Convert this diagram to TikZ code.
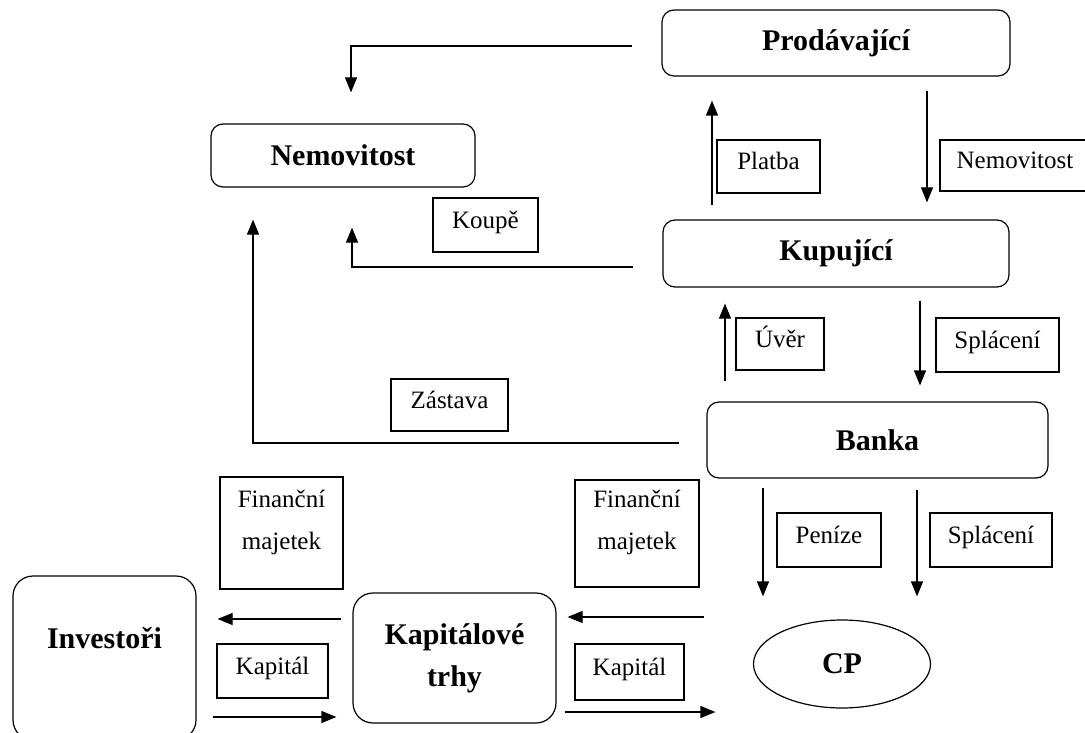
\documentclass[tikz,border=0pt]{standalone}
\usepackage{fontspec}
\setmainfont{Liberation Serif}
\usetikzlibrary{arrows.meta,shapes.geometric}

\begin{document}
\begin{tikzpicture}[x=1pt,y=-1pt,
    title/.style={draw,rounded corners=12pt,line width=1.2pt,align=center,
      font=\fontsize{30}{42}\selectfont\bfseries},
    tag/.style={draw,line width=1.2pt,align=center,font=\fontsize{25}{42}\selectfont},
    tagline/.style={tag,text height=16pt,text depth=10pt},
    arr/.style={line width=1.2pt,-{Triangle[length=15pt,width=12pt]}}]
  \useasboundingbox (0,0) rectangle (1085,733);
  % parties
  \node[title,minimum width=348pt,minimum height=66pt] (prod) at (836,43) {Prodávající};
  \node[title,minimum width=264pt,minimum height=63pt] (nem) at (343,155.5) {Nemovitost};
  \node[title,minimum width=346pt,minimum height=67pt] (kup) at (836,253.5) {Kupující};
  \node[title,minimum width=341pt,minimum height=76pt] (banka) at (877.5,440) {Banka};
  \node[title,rounded corners=20pt,minimum width=183pt,minimum height=164pt,
    text height=20pt,text depth=40pt] (inv) at (104.5,658) {Investoři};
  \node[title,rounded corners=20pt,minimum width=203pt,minimum height=130pt] (kap) at (454.5,658) {Kapitálové\\trhy};
  \node[title,ellipse,rounded corners=0pt,minimum width=177pt,minimum height=88pt] (cp) at (842,664) {CP};
  % labels
  \node[tagline,minimum width=103pt,minimum height=53pt] (platba) at (768.5,166.5) {Platba};
  \node[tagline,minimum width=150pt,minimum height=51pt] (nemtag) at (1015,165.5) {Nemovitost};
  \node[tagline,minimum width=105pt,minimum height=54pt] (koupe) at (485.5,225) {Koupě};
  \node[tagline,minimum width=88pt,minimum height=52pt] (uver) at (780,344) {Úvěr};
  \node[tagline,minimum width=123pt,minimum height=54pt] (splac) at (997.5,345) {Splácení};
  \node[tagline,minimum width=117pt,minimum height=52pt] (zast) at (449.5,405) {Zástava};
  \node[tag,minimum width=123pt,minimum height=112pt,text height=62pt,text depth=30pt] (finA) at (281.5,533) {Finanční\\majetek};
  \node[tag,minimum width=124pt,minimum height=107pt,text height=62pt,text depth=30pt] (finB) at (637,533.5) {Finanční\\majetek};
  \node[tagline,minimum width=104pt,minimum height=54pt] (penize) at (829,540) {Peníze};
  \node[tagline,minimum width=122pt,minimum height=54pt] (splacB) at (991,540) {Splácení};
  \node[tagline,minimum width=111pt,minimum height=54pt] (kapA) at (272.5,671) {Kapitál};
  \node[tagline,minimum width=109pt,minimum height=56pt] (kapB) at (629.5,672) {Kapitál};
  % flows
  \draw[arr] ([xshift=-29pt,yshift=-3pt]prod.west) -| ([xshift=8pt,yshift=31pt]nem.north);
  \draw[arr] ([xshift=-124pt,yshift=14pt]kup.north) -- ([xshift=-124pt,yshift=-24pt]prod.south);
  \draw[arr] ([xshift=91pt,yshift=-14pt]prod.south) -- ([xshift=91pt,yshift=17pt]kup.north);
  \draw[arr] ([xshift=-29pt,yshift=-13.5pt]kup.west) -| ([xshift=9pt,yshift=-40pt]nem.south);
  \draw[arr] ([xshift=-152.5pt,yshift=20pt]banka.north) -- ([xshift=-111pt,yshift=-16pt]kup.south);
  \draw[arr] ([xshift=84pt,yshift=-13pt]kup.south) -- ([xshift=42.5pt,yshift=16pt]banka.north);
  \draw[arr] ([xshift=-27pt,yshift=-3pt]banka.west) -| ([xshift=-90pt,yshift=-32pt]nem.south);
  \draw[arr] ([xshift=-114.5pt,yshift=-9pt]banka.south) -- ([xshift=-79pt,yshift=23pt]cp.north);
  \draw[arr] ([xshift=39.5pt,yshift=-11pt]banka.south) -- ([xshift=75pt,yshift=23pt]cp.north);
  \draw[arr] ([xshift=-48.5pt,yshift=47pt]cp.west) -- ([xshift=11pt,yshift=41pt]kap.east);
  \draw[arr] ([xshift=8pt,yshift=-54pt]kap.east) -- ([xshift=-37.5pt,yshift=-48pt]cp.west);
  \draw[arr] ([xshift=-11pt,yshift=39pt]kap.west) -- ([xshift=21pt,yshift=39pt]inv.east);
  \draw[arr] ([xshift=16pt,yshift=-59pt]inv.east) -- ([xshift=-16pt,yshift=-59pt]kap.west);
\end{tikzpicture}
\end{document}
